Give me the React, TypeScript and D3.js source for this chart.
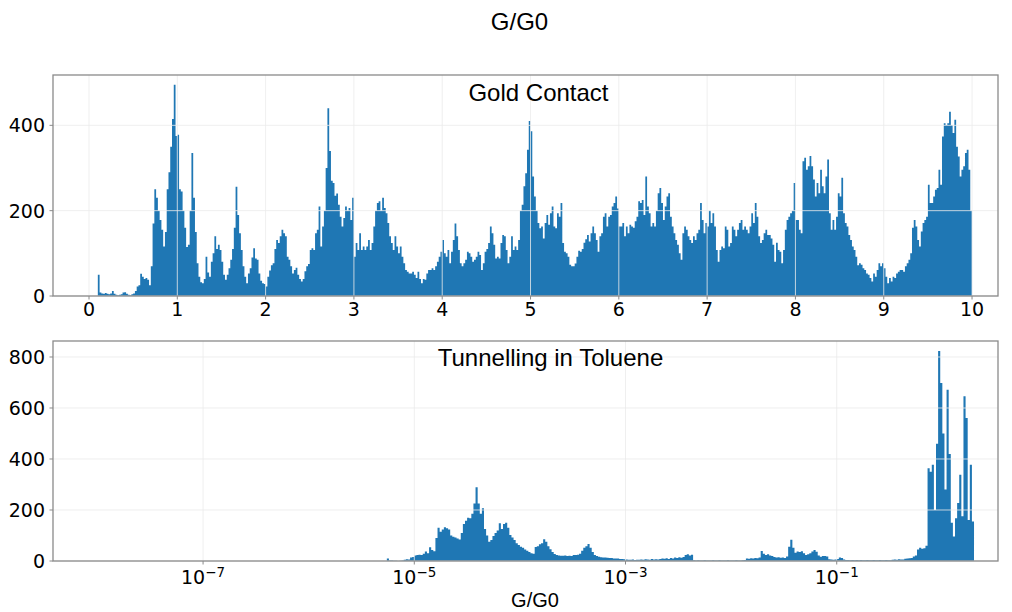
import React from "react";
import * as d3 from "d3";

// ---- Gold contact histogram: linear G/G0 bins of 0.02 starting at 0.10 ----
const goldStart = 0.1;
const goldBinWidth = 0.02;
// 0.10 – 0.98
const gold0 = [50, 8, 6, 5, 7, 5, 4, 6, 12, 5, 3, 2, 3, 4, 8, 9, 5, 3, 2, 4, 6, 12, 22, 25, 52, 45, 40, 42, 38, 25, 70, 170, 250, 230, 200, 178, 155, 116, 150, 250, 290, 350, 415, 495, 375];
// 1.00 – 1.98
const gold1 = [378, 250, 245, 200, 160, 115, 120, 200, 335, 230, 150, 77, 45, 32, 30, 40, 92, 55, 45, 80, 100, 140, 110, 120, 108, 80, 50, 38, 50, 65, 85, 110, 160, 256, 190, 147, 108, 70, 45, 30, 53, 65, 90, 112, 88, 85, 53, 36, 30, 28];
// 2.00 – 2.98
const gold2 = [22, 45, 60, 72, 77, 110, 131, 124, 140, 155, 147, 140, 92, 85, 70, 53, 61, 66, 50, 40, 34, 40, 58, 70, 75, 108, 112, 108, 147, 155, 210, 116, 163, 200, 300, 440, 340, 270, 265, 235, 240, 214, 186, 163, 183, 210, 200, 206, 178, 230];
// 3.00 – 3.98
const gold3 = [92, 124, 108, 147, 108, 116, 108, 116, 131, 108, 124, 163, 200, 218, 222, 200, 230, 206, 194, 171, 140, 124, 108, 140, 116, 100, 116, 92, 77, 61, 57, 53, 53, 57, 50, 42, 57, 40, 30, 40, 38, 53, 61, 61, 65, 61, 70, 80, 92, 104];
// 4.00 – 4.98
const gold4 = [131, 100, 92, 108, 77, 104, 131, 170, 140, 108, 77, 70, 77, 85, 104, 100, 92, 80, 85, 92, 104, 96, 61, 77, 104, 110, 124, 163, 147, 120, 88, 92, 88, 124, 143, 140, 108, 77, 92, 140, 108, 116, 108, 131, 200, 214, 257, 288, 343, 410];
// 5.00 – 5.98
const gold5 = [386, 280, 233, 200, 171, 159, 163, 135, 171, 190, 167, 194, 210, 163, 159, 194, 186, 218, 124, 104, 100, 92, 73, 70, 70, 76, 92, 106, 104, 110, 125, 133, 143, 128, 147, 163, 147, 131, 104, 140, 147, 186, 194, 163, 186, 190, 210, 218, 233, 205];
// 6.00 – 6.98
const gold6 = [163, 163, 171, 140, 163, 147, 167, 163, 160, 175, 186, 222, 218, 225, 190, 280, 210, 194, 163, 171, 163, 200, 241, 253, 218, 178, 210, 233, 241, 186, 163, 147, 131, 120, 100, 85, 147, 163, 155, 140, 131, 124, 140, 131, 147, 155, 218, 178, 147, 171];
// 7.00 – 7.98
const gold7 = [163, 200, 171, 194, 163, 108, 80, 108, 116, 112, 163, 155, 116, 124, 163, 155, 140, 155, 171, 178, 155, 163, 155, 147, 163, 194, 171, 218, 186, 140, 124, 131, 147, 155, 143, 143, 135, 120, 80, 125, 108, 104, 77, 108, 155, 178, 186, 194, 200, 265];
// 8.00 – 8.98
const gold8 = [178, 178, 155, 147, 316, 324, 296, 304, 328, 304, 273, 233, 265, 241, 296, 257, 241, 280, 320, 194, 155, 178, 155, 186, 241, 233, 277, 194, 171, 163, 143, 131, 116, 108, 92, 72, 77, 73, 65, 61, 53, 50, 42, 34, 53, 45, 61, 77, 70, 77];
// 9.00 – 9.98
const gold9 = [65, 45, 30, 42, 34, 45, 42, 53, 57, 61, 61, 57, 70, 77, 85, 100, 160, 178, 163, 131, 116, 151, 171, 178, 186, 261, 218, 218, 233, 249, 253, 296, 261, 374, 405, 401, 405, 432, 401, 382, 413, 350, 327, 280, 296, 304, 335, 343, 296, 200];
const goldCounts = [...gold0, ...gold1, ...gold2, ...gold3, ...gold4, ...gold5, ...gold6, ...gold7, ...gold8, ...gold9];

// ---- Tunnelling histogram: log10(G/G0) bins of 0.02 decades starting at 10^-5.3 ----
const tunnelStartExp = -5.3;
const tunnelBinWidthExp = 0.02;
// -5.30 – -5.02
const tunnelA = [0, 0, 10, 2, 2, 1, 1, 0, 1, 2, 5, 7, 6, 14, 16];
// -5.00 – -4.02
const tunnelB = [22, 24, 25, 24, 28, 37, 30, 54, 43, 38, 90, 130, 115, 124, 132, 128, 124, 100, 95, 92, 88, 84, 110, 145, 158, 170, 168, 185, 225, 289, 225, 185, 207, 125, 100, 75, 82, 98, 110, 120, 148, 125, 145, 150, 130, 102, 92, 82, 70, 63];
// -4.00 – -3.02
const tunnelC = [56, 52, 45, 40, 35, 30, 28, 55, 58, 66, 70, 85, 75, 58, 46, 35, 27, 24, 22, 21, 21, 22, 20, 21, 20, 24, 24, 25, 28, 40, 52, 58, 67, 52, 35, 24, 20, 17, 15, 14, 14, 13, 12, 12, 10, 10, 10, 8, 8, 7];
// -3.00 – -2.02
const tunnelD = [6, 5, 5, 6, 4, 5, 5, 6, 5, 7, 6, 5, 8, 6, 7, 6, 8, 10, 9, 11, 8, 12, 10, 14, 12, 15, 13, 16, 24, 26, 22, 25, 3, 2, 3, 2, 2, 3, 2, 2, 2, 3, 2, 2, 3, 2, 2, 2, 3, 2];
// -2.00 – -1.02
const tunnelE = [2, 2, 3, 2, 2, 3, 4, 10, 9, 11, 10, 12, 11, 14, 39, 28, 24, 26, 22, 20, 16, 14, 15, 13, 14, 12, 18, 56, 83, 52, 32, 37, 35, 38, 30, 24, 26, 30, 37, 43, 36, 22, 17, 20, 20, 18, 7, 6, 5, 6];
// -1.00 – -0.02
const tunnelF = [8, 14, 12, 6, 4, 4, 3, 4, 3, 4, 3, 4, 3, 3, 4, 3, 3, 4, 3, 3, 4, 3, 3, 4, 3, 3, 5, 6, 5, 7, 6, 6, 9, 10, 11, 12, 18, 22, 45, 52, 48, 50, 60, 364, 350, 377, 200, 460, 823, 698];
// 0.00 – 0.28
const tunnelG = [500, 280, 672, 420, 150, 96, 168, 227, 338, 175, 646, 561, 161, 377, 155];
const tunnelCounts = [...tunnelA, ...tunnelB, ...tunnelC, ...tunnelD, ...tunnelE, ...tunnelF, ...tunnelG];

// ---- Ticks and labels ----
const goldXTicks = [0, 1, 2, 3, 4, 5, 6, 7, 8, 9, 10];
const goldYTicks = [0, 200, 400];
const tunnelXTickExps = [-7, -5, -3, -1];
const tunnelYTicks = [0, 200, 400, 600, 800];
const figureTitle = "G/G0";
const goldTitle = "Gold Contact";
const tunnelTitle = "Tunnelling in Toluene";
const xAxisLabel = "G/G0";

const W = 1012;
const H = 612;
const BAR = "#1f77b4";
const SPINE = "#8a8a8a";
const GRID = "#ebebeb";
const TICK_FONT = "'DejaVu Sans', Verdana, sans-serif";
const TITLE_FONT = "'Liberation Sans', Arial, Helvetica, sans-serif";

const left = 53;
const right = 998;
const top1 = 75;
const bottom1 = 296;
const top2 = 341;
const bottom2 = 561;

type Bin = { x: number; c: number };

function stepPath(bins: Bin[], xs: (v: number) => number, ys: (v: number) => number) {
  const area = d3
    .area<Bin>()
    .x((d) => xs(d.x))
    .y0(ys(0))
    .y1((d) => ys(d.c))
    .curve(d3.curveStepAfter);
  return area(bins) || "";
}

function Frame({ t, b }: { t: number; b: number }) {
  return (
    <rect
      x={left}
      y={t}
      width={right - left}
      height={b - t}
      fill="none"
      stroke={SPINE}
      strokeWidth={1.3}
    />
  );
}

export default function App() {
  // Top panel scales
  const x1 = d3.scaleLinear().domain([-0.4077, 10.294]).range([left, right]);
  const y1 = d3.scaleLinear().domain([0, 518]).range([bottom1, top1]);

  // Bottom panel scales
  const x2 = d3
    .scaleLog()
    .domain([Math.pow(10, -8.421), Math.pow(10, 0.527)])
    .range([left, right]);
  const y2 = d3.scaleLinear().domain([0, 862.7]).range([bottom2, top2]);

  const goldBins: Bin[] = goldCounts.map((c, i) => ({ x: goldStart + i * goldBinWidth, c }));
  goldBins.push({
    x: goldStart + goldCounts.length * goldBinWidth,
    c: goldCounts[goldCounts.length - 1],
  });

  const tunnelBins: Bin[] = tunnelCounts.map((c, i) => ({
    x: Math.pow(10, tunnelStartExp + i * tunnelBinWidthExp),
    c,
  }));
  tunnelBins.push({
    x: Math.pow(10, tunnelStartExp + tunnelCounts.length * tunnelBinWidthExp),
    c: tunnelCounts[tunnelCounts.length - 1],
  });

  const tickLen = 3.5;

  return (
    <div style={{ position: "absolute", left: 0, top: 0 }}>
      <svg width={W} height={H} viewBox={`0 0 ${W} ${H}`} style={{ display: "block", background: "#fff" }}>
        {/* figure title */}
        <text x={519.5} y={30} textAnchor="middle" fontFamily={TITLE_FONT} fontSize={24} fill="#000">
          {figureTitle}
        </text>

        {/* ===== top panel ===== */}
        <path d={stepPath(goldBins, x1, y1)} fill={BAR} />
        <g stroke={GRID} strokeOpacity={0.8} strokeWidth={1}>
          {goldXTicks.map((t) => (
            <line key={`gx${t}`} x1={x1(t)} x2={x1(t)} y1={top1} y2={bottom1} />
          ))}
          {goldYTicks.map((t) => (
            <line key={`gy${t}`} x1={left} x2={right} y1={y1(t)} y2={y1(t)} />
          ))}
        </g>
        <Frame t={top1} b={bottom1} />
        <g stroke={SPINE} strokeWidth={1}>
          {goldXTicks.map((t) => (
            <line key={`gxt${t}`} x1={x1(t)} x2={x1(t)} y1={bottom1} y2={bottom1 + tickLen} />
          ))}
          {goldYTicks.map((t) => (
            <line key={`gyt${t}`} x1={left - tickLen} x2={left} y1={y1(t)} y2={y1(t)} />
          ))}
        </g>
        <g fontFamily={TICK_FONT} fontSize={19} fill="#000">
          {goldXTicks.map((t) => (
            <text key={`gxl${t}`} x={x1(t)} y={316} textAnchor="middle">
              {t}
            </text>
          ))}
          {goldYTicks.map((t) => (
            <text key={`gyl${t}`} x={left - 8} y={y1(t)} dy="0.36em" textAnchor="end">
              {t}
            </text>
          ))}
        </g>
        <text x={538.5} y={101} textAnchor="middle" fontFamily={TITLE_FONT} fontSize={24} fill="#000">
          {goldTitle}
        </text>

        {/* ===== bottom panel ===== */}
        <path d={stepPath(tunnelBins, x2, y2)} fill={BAR} />
        <g stroke={GRID} strokeOpacity={0.8} strokeWidth={1}>
          {tunnelXTickExps.map((e) => (
            <line key={`tx${e}`} x1={x2(Math.pow(10, e))} x2={x2(Math.pow(10, e))} y1={top2} y2={bottom2} />
          ))}
          {tunnelYTicks.map((t) => (
            <line key={`ty${t}`} x1={left} x2={right} y1={y2(t)} y2={y2(t)} />
          ))}
        </g>
        <Frame t={top2} b={bottom2} />
        <g stroke={SPINE} strokeWidth={1}>
          {tunnelXTickExps.map((e) => (
            <line
              key={`txt${e}`}
              x1={x2(Math.pow(10, e))}
              x2={x2(Math.pow(10, e))}
              y1={bottom2}
              y2={bottom2 + tickLen}
            />
          ))}
          {tunnelYTicks.map((t) => (
            <line key={`tyt${t}`} x1={left - tickLen} x2={left} y1={y2(t)} y2={y2(t)} />
          ))}
        </g>
        <g fontFamily={TICK_FONT} fontSize={19} fill="#000">
          {tunnelXTickExps.map((e) => (
            <text key={`txl${e}`} x={x2(Math.pow(10, e))} y={584} textAnchor="middle">
              <tspan>10</tspan>
              <tspan dy={-7} fontSize={13.5}>{`\u2212${Math.abs(e)}`}</tspan>
            </text>
          ))}
          {tunnelYTicks.map((t) => (
            <text key={`tyl${t}`} x={left - 8} y={y2(t)} dy="0.36em" textAnchor="end">
              {t}
            </text>
          ))}
        </g>
        <text x={550.5} y={366} textAnchor="middle" fontFamily={TITLE_FONT} fontSize={24} fill="#000">
          {tunnelTitle}
        </text>
        <text x={535} y={607} textAnchor="middle" fontFamily={TITLE_FONT} fontSize={20} fill="#000">
          {xAxisLabel}
        </text>
      </svg>
    </div>
  );
}
